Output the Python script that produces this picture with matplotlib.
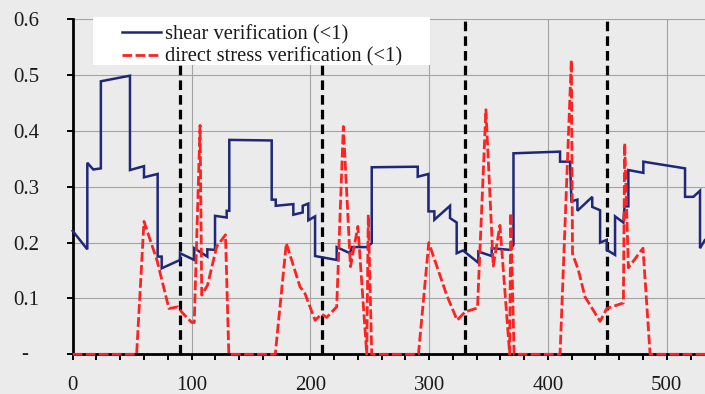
import matplotlib
matplotlib.use('Agg')
import matplotlib.pyplot as plt
from matplotlib.patches import Rectangle
from matplotlib.ticker import MultipleLocator

# ---- data ----
shear_x = [0, 12.3, 12.3, 17.3, 23.7, 23.7, 48.2, 48.2, 60, 60, 71.5, 71.5, 74.9, 74.9,
           90.3, 90.3, 102.3, 102.3, 113.3, 113.3, 119.8, 119.8, 129.6, 129.6, 131.8, 131.8,
           167.5, 167.5, 170.9, 170.9, 185.7, 185.7, 193.6, 193.6, 198.3, 198.3, 204.0, 204.0,
           222.2, 222.2, 233.4, 234.8, 247.5, 251.7, 251.7, 290.4, 290.4, 299.4, 299.4,
           304.4, 304.4, 317.6, 317.6, 323.2, 323.2, 328.5, 341.4, 341.4, 352.7, 352.7,
           368.1, 371.0, 371.0, 410.2, 410.2, 418.6, 419.8, 424.8, 424.8, 437.3, 437.3,
           443.9, 443.9, 449.5, 449.5, 456.5, 456.5, 463.5, 464.5, 467.7, 467.7, 480.3, 480.3,
           515.4, 515.4, 522.4, 528.0, 528.0, 532.2, 545.0]
shear_y = [0.221, 0.188, 0.343, 0.331, 0.333, 0.489, 0.499, 0.330, 0.337, 0.317, 0.323, 0.175, 0.175, 0.154,
           0.169, 0.181, 0.169, 0.190, 0.175, 0.188, 0.187, 0.248, 0.245, 0.257, 0.257, 0.384,
           0.383, 0.277, 0.277, 0.266, 0.269, 0.250, 0.254, 0.266, 0.270, 0.240, 0.247, 0.176,
           0.169, 0.192, 0.181, 0.192, 0.192, 0.199, 0.335, 0.336, 0.318, 0.323, 0.256,
           0.256, 0.241, 0.266, 0.244, 0.236, 0.181, 0.186, 0.164, 0.184, 0.176, 0.190,
           0.187, 0.196, 0.360, 0.363, 0.345, 0.345, 0.274, 0.277, 0.257, 0.282, 0.264,
           0.258, 0.200, 0.205, 0.187, 0.178, 0.247, 0.236, 0.265, 0.265, 0.330, 0.325, 0.345,
           0.333, 0.282, 0.282, 0.293, 0.190, 0.205, 0.215]

stress_x = [0, 53.8, 60.0, 71.0, 81.0, 88.5, 92.0, 100.2, 102.3, 107.2, 108.6, 113.5, 121.2, 128.6, 131.4,
            170.5, 179.8, 191.3, 195.5, 204.0, 209.6, 213.8, 222.2, 227.8, 233.8, 240.0, 247.5,
            248.8, 251.7, 291.0, 299.7, 314.8, 323.6, 330.2, 340.7, 347.8, 354.0, 359.6, 367.8,
            368.7, 371.5, 410.2, 419.7, 420.7, 425.6, 431.2, 443.9, 449.5, 463.5, 464.6, 467.7,
            480.0, 486.0, 545.0]
stress_y = [0, 0, 0.238, 0.168, 0.082, 0.085, 0.075, 0.057, 0.057, 0.410, 0.106, 0.124, 0.193, 0.214, 0,
            0, 0.199, 0.121, 0.109, 0.061, 0.072, 0.066, 0.085, 0.408, 0.157, 0.229, 0,
            0.250, 0, 0, 0.200, 0.106, 0.061, 0.076, 0.083, 0.438, 0.158, 0.231, 0,
            0.253, 0, 0, 0.527, 0.180, 0.151, 0.103, 0.059, 0.082, 0.092, 0.378, 0.155,
            0.190, 0, 0]

section_x = [90, 210, 330, 450]
y_ticks = [0, 0.1, 0.2, 0.3, 0.4, 0.5, 0.6]
y_labels = ['', '0.1', '0.2', '0.3', '0.4', '0.5', '0.6']
zero_label = '-'
x_ticks = [0, 100, 200, 300, 400, 500]
legend_labels = ['shear verification (<1)', 'direct stress verification (<1)']

# ---- styling ----
W, H = 705, 394
bg = '#EBEBEB'
plt.rcParams['font.family'] = ['Liberation Serif', 'DejaVu Serif']

fig = plt.figure(figsize=(W / 100, H / 100), dpi=100, facecolor=bg)
x0px, y0px, ytop_px = 72.7, 354.3, 19.3
ax = fig.add_axes([x0px / W, 1 - y0px / H, (W - x0px) / W, (y0px - ytop_px) / H])
ax.set_facecolor(bg)
ax.set_xlim(0, 532.2)
ax.set_ylim(0, 0.6)

ax.set_axisbelow(True)
ax.set_xticks(x_ticks)
ax.xaxis.set_minor_locator(MultipleLocator(20))
ax.set_yticks(y_ticks)
ax.set_yticklabels(y_labels)
ax.grid(True, which='major', color='#A3A3A3', linewidth=0.8)

for s in ['top', 'right']:
    ax.spines[s].set_visible(False)
for s in ['left', 'bottom']:
    ax.spines[s].set_linewidth(2.0)
    ax.spines[s].set_color('black')
    ax.spines[s].set_zorder(1.5)

ax.tick_params(axis='both', which='both', direction='out', length=4.3, width=1.4, color='black')
ax.tick_params(axis='y', which='major', pad=20, labelsize=15, labelcolor='#1a1a1a')
ax.tick_params(axis='x', which='major', pad=11, labelsize=15, labelcolor='#1a1a1a')

ax.annotate(zero_label, xy=(0, 0), xycoords=('axes fraction', 'data'),
            xytext=(-47.7, 0), textcoords='offset pixels', ha='center', va='center',
            fontsize=15, color='#1a1a1a', annotation_clip=False)

for xv in section_x:
    ax.plot([xv, xv], [0, 0.6], color='black', linewidth=2.3, dashes=(3.0, 1.6), zorder=2)

l1, = ax.plot(shear_x, shear_y, color='#1F2878', linewidth=1.8, zorder=3,
              solid_joinstyle='miter', clip_on=False)
l2, = ax.plot(stress_x, stress_y, color='#FF2222', linewidth=2.0, dashes=(3.5, 1.2),
              zorder=3.5, clip_on=False)

rect = Rectangle((93.3 / W, 1 - 65 / H), (430 - 93.3) / W, (65 - 16.7) / H,
                 transform=fig.transFigure, facecolor='white', edgecolor='none',
                 clip_on=False, zorder=4)
ax.add_patch(rect)

leg = ax.legend([l1, l2], legend_labels, loc='upper left',
                bbox_to_anchor=(122.3 / W, 1 - 25.0 / H), bbox_transform=fig.transFigure,
                frameon=False, borderpad=0, borderaxespad=0, handlelength=1.9,
                handletextpad=0.2, labelspacing=0.15, fontsize=14.8)
leg.set_zorder(5)
for t in leg.get_texts():
    t.set_color('#1a1a1a')

fig.savefig('out.png', dpi=100, facecolor=bg)
